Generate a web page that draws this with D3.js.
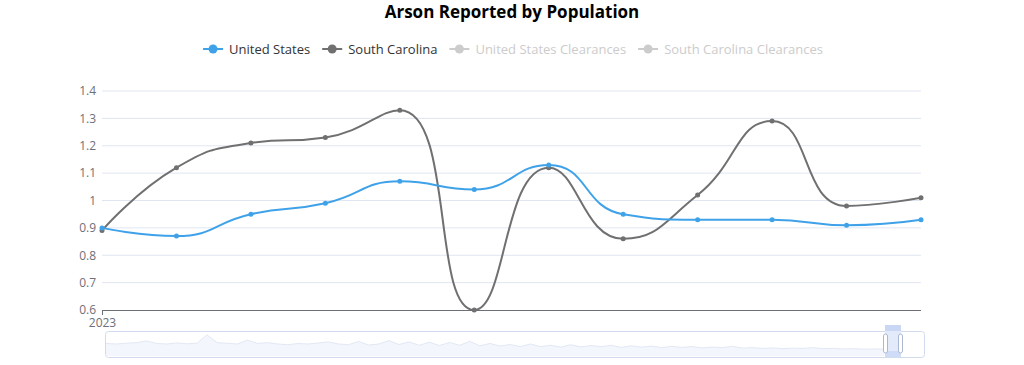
<!DOCTYPE html>
<html>
<head>
<meta charset="utf-8">
<script src="https://cdn.jsdelivr.net/npm/d3@7"></script>
<style>
  body { margin: 0; background: #fff; }
  text { font-family: "Open Sans", "Noto Sans", sans-serif; }
</style>
</head>
<body>
<div id="chart"></div>
<script>
// months of 2023
var months = ["2023-01", "2023-02", "2023-03", "2023-04", "2023-05", "2023-06",
              "2023-07", "2023-08", "2023-09", "2023-10", "2023-11", "2023-12"];
var usValues = [0.90, 0.87, 0.95, 0.99, 1.07, 1.04, 1.13, 0.95, 0.93, 0.93, 0.91, 0.93];
var scValues = [0.89, 1.12, 1.21, 1.23, 1.33, 0.60, 1.12, 0.86, 1.02, 1.29, 0.98, 1.01];
var yTicks = [0.6, 0.7, 0.8, 0.9, 1, 1.1, 1.2, 1.3, 1.4];
var xTickLabels = ["2023"];
var legendNames = ["United States", "South Carolina", "United States Clearances", "South Carolina Clearances"];
var legendColors = ["#3fa2e9", "#707070", "#cccccc", "#cccccc"];
var legendText = ["#333", "#333", "#cccccc", "#cccccc"];
// rough overview of the full history shown in the zoom slider
var shadowValues = [0.52,0.50,0.53,0.55,0.62,0.52,0.50,0.54,0.51,0.53,0.85,0.55,0.53,0.50,0.65,0.52,
  0.55,0.50,0.47,0.52,0.50,0.54,0.58,0.50,0.47,0.60,0.46,0.50,0.63,0.48,0.58,0.45,0.57,0.44,0.56,
  0.45,0.60,0.43,0.52,0.42,0.48,0.40,0.50,0.40,0.45,0.38,0.47,0.39,0.44,0.40,0.45,0.37,0.43,0.38,
  0.42,0.36,0.41,0.37,0.40,0.35,0.38,0.36,0.41,0.34,0.36,0.33,0.35,0.32,0.34,0.33,0.36,0.32,0.33,
  0.31,0.32,0.30,0.31,0.30];

var W = 1024, H = 365;
var margin = {top: 91, right: 103, bottom: 55, left: 102};
var width = W - margin.left - margin.right;
var height = H - margin.top - margin.bottom;

var svg = d3.select("#chart").append("svg")
  .attr("width", W).attr("height", H);

// title
svg.append("text")
  .attr("x", 512).attr("y", 18)
  .attr("text-anchor", "middle")
  .attr("font-size", 17).attr("font-weight", "bold").attr("fill", "#000")
  .text("Arson Reported by Population");

// legend
var legend = svg.append("g");
var lx = 0;
legendNames.forEach(function(name, i) {
  var g = legend.append("g").attr("transform", "translate(" + lx + ",0)");
  g.append("line").attr("x1", 0).attr("x2", 20).attr("y1", 0).attr("y2", 0)
    .attr("stroke", legendColors[i]).attr("stroke-width", 2);
  g.append("circle").attr("cx", 10).attr("cy", 0).attr("r", 4.5).attr("fill", legendColors[i]);
  var t = g.append("text").attr("x", 26).attr("y", 5)
    .attr("font-size", 13).attr("fill", legendText[i]).text(name);
  lx += 26 + t.node().getComputedTextLength() + 12;
});
legend.attr("transform", "translate(" + (513 - (lx - 12) / 2) + ",49)");

var g = svg.append("g").attr("transform", "translate(" + margin.left + "," + margin.top + ")");

var x = d3.scalePoint().domain(months).range([0, width]);
var y = d3.scaleLinear().domain([0.6, 1.4]).range([height, 0]);

// grid
g.append("g")
  .selectAll("line").data(yTicks.slice(1)).enter().append("line")
  .attr("x1", 0).attr("x2", width)
  .attr("y1", function(d) { return y(d); }).attr("y2", function(d) { return y(d); })
  .attr("stroke", "#E0E6F1");

// y axis labels
var yAxis = g.append("g").call(d3.axisLeft(y).tickValues(yTicks).tickSize(0).tickPadding(6)
  .tickFormat(function(d) { return d3.format("~g")(d); }));
yAxis.select(".domain").remove();
yAxis.selectAll("text").attr("font-size", 12).attr("fill", "#6E7079");

// x axis
var xAxis = g.append("g").attr("transform", "translate(0," + height + ")")
  .call(d3.axisBottom(x).tickValues([months[0]]).tickSize(5).tickPadding(3)
    .tickFormat(function(d, i) { return xTickLabels[i]; }));
xAxis.select(".domain").attr("d", "M0,0.5H" + width).attr("stroke", "#6E7079");
xAxis.selectAll(".tick line").attr("stroke", "#6E7079");
xAxis.selectAll("text").attr("font-size", 12).attr("fill", "#6E7079");

// echarts-like smoothing (smooth = 0.5) with extreme clamping
function smoothPath(pts, smooth) {
  var p = d3.path();
  var cpx0, cpy0, prevX, prevY;
  for (var k = 0; k < pts.length; k++) {
    var px = pts[k][0], py = pts[k][1];
    if (k === 0) { p.moveTo(px, py); cpx0 = px; cpy0 = py; }
    else {
      var cpx1, cpy1, nx0, ny0;
      if (k === pts.length - 1) { cpx1 = px; cpy1 = py; }
      else {
        var nx = pts[k + 1][0], ny = pts[k + 1][1];
        var vx = nx - prevX, vy = ny - prevY;
        var lp = Math.hypot(px - prevX, py - prevY), ln = Math.hypot(nx - px, ny - py);
        var r = ln / (ln + lp);
        nx0 = px + vx * smooth * r; ny0 = py + vy * smooth * r;
        nx0 = Math.max(Math.min(nx0, Math.max(nx, px)), Math.min(nx, px));
        ny0 = Math.max(Math.min(ny0, Math.max(ny, py)), Math.min(ny, py));
        vx = nx0 - px; vy = ny0 - py;
        cpx1 = px - vx * lp / ln; cpy1 = py - vy * lp / ln;
        cpx1 = Math.max(Math.min(cpx1, Math.max(prevX, px)), Math.min(prevX, px));
        cpy1 = Math.max(Math.min(cpy1, Math.max(prevY, py)), Math.min(prevY, py));
        vx = px - cpx1; vy = py - cpy1;
        nx0 = px + vx * ln / lp; ny0 = py + vy * ln / lp;
      }
      p.bezierCurveTo(cpx0, cpy0, cpx1, cpy1, px, py);
      cpx0 = nx0; cpy0 = ny0;
    }
    prevX = px; prevY = py;
  }
  return p.toString();
}

var series = [
  {name: "South Carolina", values: scValues, color: "#707070"},
  {name: "United States", values: usValues, color: "#3fa2e9"}
];
series.forEach(function(s) {
  var pts = s.values.map(function(v, i) { return [x(months[i]), y(v)]; });
  g.append("path").attr("d", smoothPath(pts, 0.5))
    .attr("fill", "none").attr("stroke", s.color).attr("stroke-width", 2);
  g.selectAll(null).data(pts).enter().append("circle")
    .attr("cx", function(d) { return d[0]; }).attr("cy", function(d) { return d[1]; })
    .attr("r", 2.5).attr("fill", s.color);
});

// data zoom slider
var sl = {x: 105, y: 331, w: 819, h: 26};
var slider = svg.append("g");
slider.append("rect").attr("x", sl.x + 0.5).attr("y", sl.y + 0.5).attr("width", sl.w).attr("height", sl.h)
  .attr("rx", 3).attr("fill", "none").attr("stroke", "#d2dbee");
var sx = d3.scaleLinear().domain([0, shadowValues.length - 1]).range([sl.x + 1, 884]);
var sy = d3.scaleLinear().domain([0, 1]).range([sl.y + sl.h, sl.y]);
slider.append("path")
  .attr("d", d3.area().x(function(d, i) { return sx(i); }).y0(sl.y + sl.h - 1).y1(function(d) { return sy(d); })(shadowValues))
  .attr("fill", "#f3f6fc").attr("stroke", "none");
slider.append("path")
  .attr("d", d3.line().x(function(d, i) { return sx(i); }).y(function(d) { return sy(d); })(shadowValues))
  .attr("fill", "none").attr("stroke", "#e2e8f4").attr("stroke-width", 1);
// selected window
slider.append("rect").attr("x", 885).attr("y", 325).attr("width", 16).attr("height", 32)
  .attr("fill", "#e3ebfb");
slider.append("rect").attr("x", 885).attr("y", 325).attr("width", 16).attr("height", 6)
  .attr("fill", "#c9d7f4");
slider.append("rect").attr("x", 885).attr("y", 351).attr("width", 16).attr("height", 6)
  .attr("fill", "#cfdcf8");
[884.5, 899.5].forEach(function(hx) {
  slider.append("rect").attr("x", hx - 1).attr("y", 334).attr("width", 4).attr("height", 19)
    .attr("rx", 2).attr("fill", "#fff").attr("stroke", "#acb8d1");
});
</script>
</body>
</html>
